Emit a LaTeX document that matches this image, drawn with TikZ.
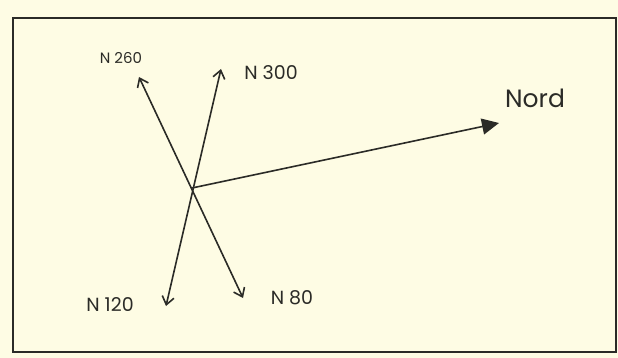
\documentclass[tikz,border=0pt]{standalone}
\usepackage{fontspec}
\setmainfont{Poppins}
\usetikzlibrary{arrows.meta}
\definecolor{SheetPaper}{HTML}{FEFCE4}
\definecolor{SheetInk}{HTML}{2B2B27}

\begin{document}
\begin{tikzpicture}[x=1pt,y=-1pt,>=Latex]
  \tikzset{
    sheetline/.style={SheetInk,line width=1.6pt},
    bearing/.style={sheetline,{Straight Barb[length=8pt,width=12pt]}-{Straight Barb[length=8pt,width=12pt]}},
    northline/.style={sheetline,-{Triangle[length=17pt,width=16pt]}},
    bearlabel/.style={SheetInk,inner sep=0pt}
  }
  % Sheet and frame.
  \fill[SheetPaper] (0,0) rectangle (618,358);
  \useasboundingbox (0,0) rectangle (618,358);
  \draw[sheetline,line width=1.8pt] (13,18) rectangle (616,352);
  % Crossing point and bearing tips.
  \coordinate (o) at (192,188);
  \coordinate (n260) at (139,77);
  \coordinate (n80) at (243,298);
  \coordinate (n300) at (221,69);
  \coordinate (n120) at (166,306);
  \coordinate (nord) at (499,123);
  % Bearings.
  \draw[bearing] (n260) -- (n80);
  \draw[bearing] (n300) -- (n120);
  \draw[northline] (o) -- (nord);
  % Labels.
  \node[bearlabel,font=\fontsize{15}{15}\selectfont] (l260) at (121,58) {N 260};
  \node[bearlabel,font=\fontsize{19}{19}\selectfont] (l300) at (271,73) {N 300};
  \node[bearlabel,font=\fontsize{19}{19}\selectfont] (l120) at (110,305) {N 120};
  \node[bearlabel,font=\fontsize{19}{19}\selectfont] (l80) at (292,298) {N 80};
  \node[bearlabel,font=\fontsize{25}{25}\selectfont] (lnord) at (535,98) {Nord};
\end{tikzpicture}
\end{document}
